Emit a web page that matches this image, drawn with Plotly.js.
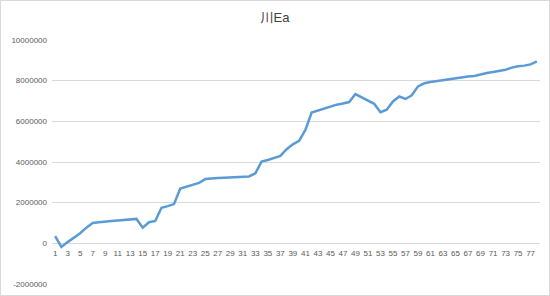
<!DOCTYPE html>
<html>
<head>
<meta charset="utf-8">
<script src="https://cdn.plot.ly/plotly-3.0.1.min.js"></script>
<style>
  html, body { margin: 0; padding: 0; background: #fff; }
  #wrap { position: relative; width: 550px; height: 296px; }
  #chart { width: 550px; height: 296px; }
  #frame { position: absolute; left: 0; top: 0; width: 550px; height: 296px; box-sizing: border-box; border: 1px solid #d9d9d9; pointer-events: none; }
</style>
</head>
<body>
<div id="wrap"><div id="chart"></div><div id="frame"></div></div>
<script>
const chartTitle = "川Ea";
const categories = [];
for (let i = 1; i <= 78; i++) categories.push(i);
const values = [
  350000, -180000, 60000, 280000, 500000, 770000, 1000000, 1040000, 1080000, 1100000,
  1120000, 1150000, 1180000, 1200000, 770000, 1040000, 1100000, 1750000, 1830000, 1930000,
  2700000, 2800000, 2870000, 2970000, 3160000, 3200000, 3210000, 3230000, 3240000, 3260000,
  3280000, 3290000, 3440000, 4020000, 4100000, 4210000, 4300000, 4630000, 4870000, 5040000,
  5580000, 6430000, 6530000, 6650000, 6730000, 6820000, 6880000, 6950000, 7340000, 7170000,
  7030000, 6860000, 6450000, 6570000, 6980000, 7220000, 7100000, 7280000, 7720000, 7870000,
  7930000, 7980000, 8030000, 8080000, 8130000, 8180000, 8210000, 8230000, 8310000, 8380000,
  8430000, 8480000, 8540000, 8640000, 8710000, 8740000, 8800000, 8950000
];
const yTickVals = [-2000000, 0, 2000000, 4000000, 6000000, 8000000, 10000000];
const yTickText = ["-2000000", "0", "2000000", "4000000", "6000000", "8000000", "10000000"];
const xTickVals = categories.filter(c => c % 2 === 1);
const xTickText = xTickVals.map(String);

const yMin = -2000000, yMax = 10000000;
const fontFam = "'Liberation Sans', 'Noto Sans CJK SC', sans-serif";

const trace = {
  x: categories,
  y: values,
  type: 'scatter',
  mode: 'lines',
  line: { color: '#5b9bd5', width: 2.5 },
  hoverinfo: 'x+y'
};

const layout = {
  width: 550,
  height: 296,
  margin: { l: 52, r: 10, t: 40, b: 12 },
  paper_bgcolor: '#ffffff',
  plot_bgcolor: '#ffffff',
  showlegend: false,
  title: {
    text: chartTitle,
    font: { family: fontFam, size: 13, color: '#404040' },
    x: 0.5, xref: 'container', xanchor: 'center',
    y: 1 - 17 / 296, yref: 'container', yanchor: 'middle'
  },
  xaxis: {
    range: [0.5, categories.length + 0.5],
    tickmode: 'array',
    tickvals: xTickVals,
    ticktext: xTickText,
    anchor: 'free',
    position: (0 - yMin) / (yMax - yMin),
    showgrid: false,
    zeroline: false,
    showline: false,
    ticks: '',
    ticklabelstandoff: 4,
    tickfont: { family: fontFam, size: 8, color: '#595959' },
    fixedrange: true
  },
  yaxis: {
    range: [yMin, yMax],
    tickmode: 'array',
    tickvals: yTickVals,
    ticktext: yTickText,
    showgrid: true,
    gridcolor: '#d9d9d9',
    gridwidth: 1,
    zeroline: true,
    zerolinecolor: '#d9d9d9',
    zerolinewidth: 1,
    showline: false,
    ticks: '',
    ticklabelstandoff: 4,
    tickfont: { family: fontFam, size: 8, color: '#595959' },
    fixedrange: true
  }
};

Plotly.newPlot('chart', [trace], layout, { displayModeBar: false, staticPlot: true });
</script>
</body>
</html>
